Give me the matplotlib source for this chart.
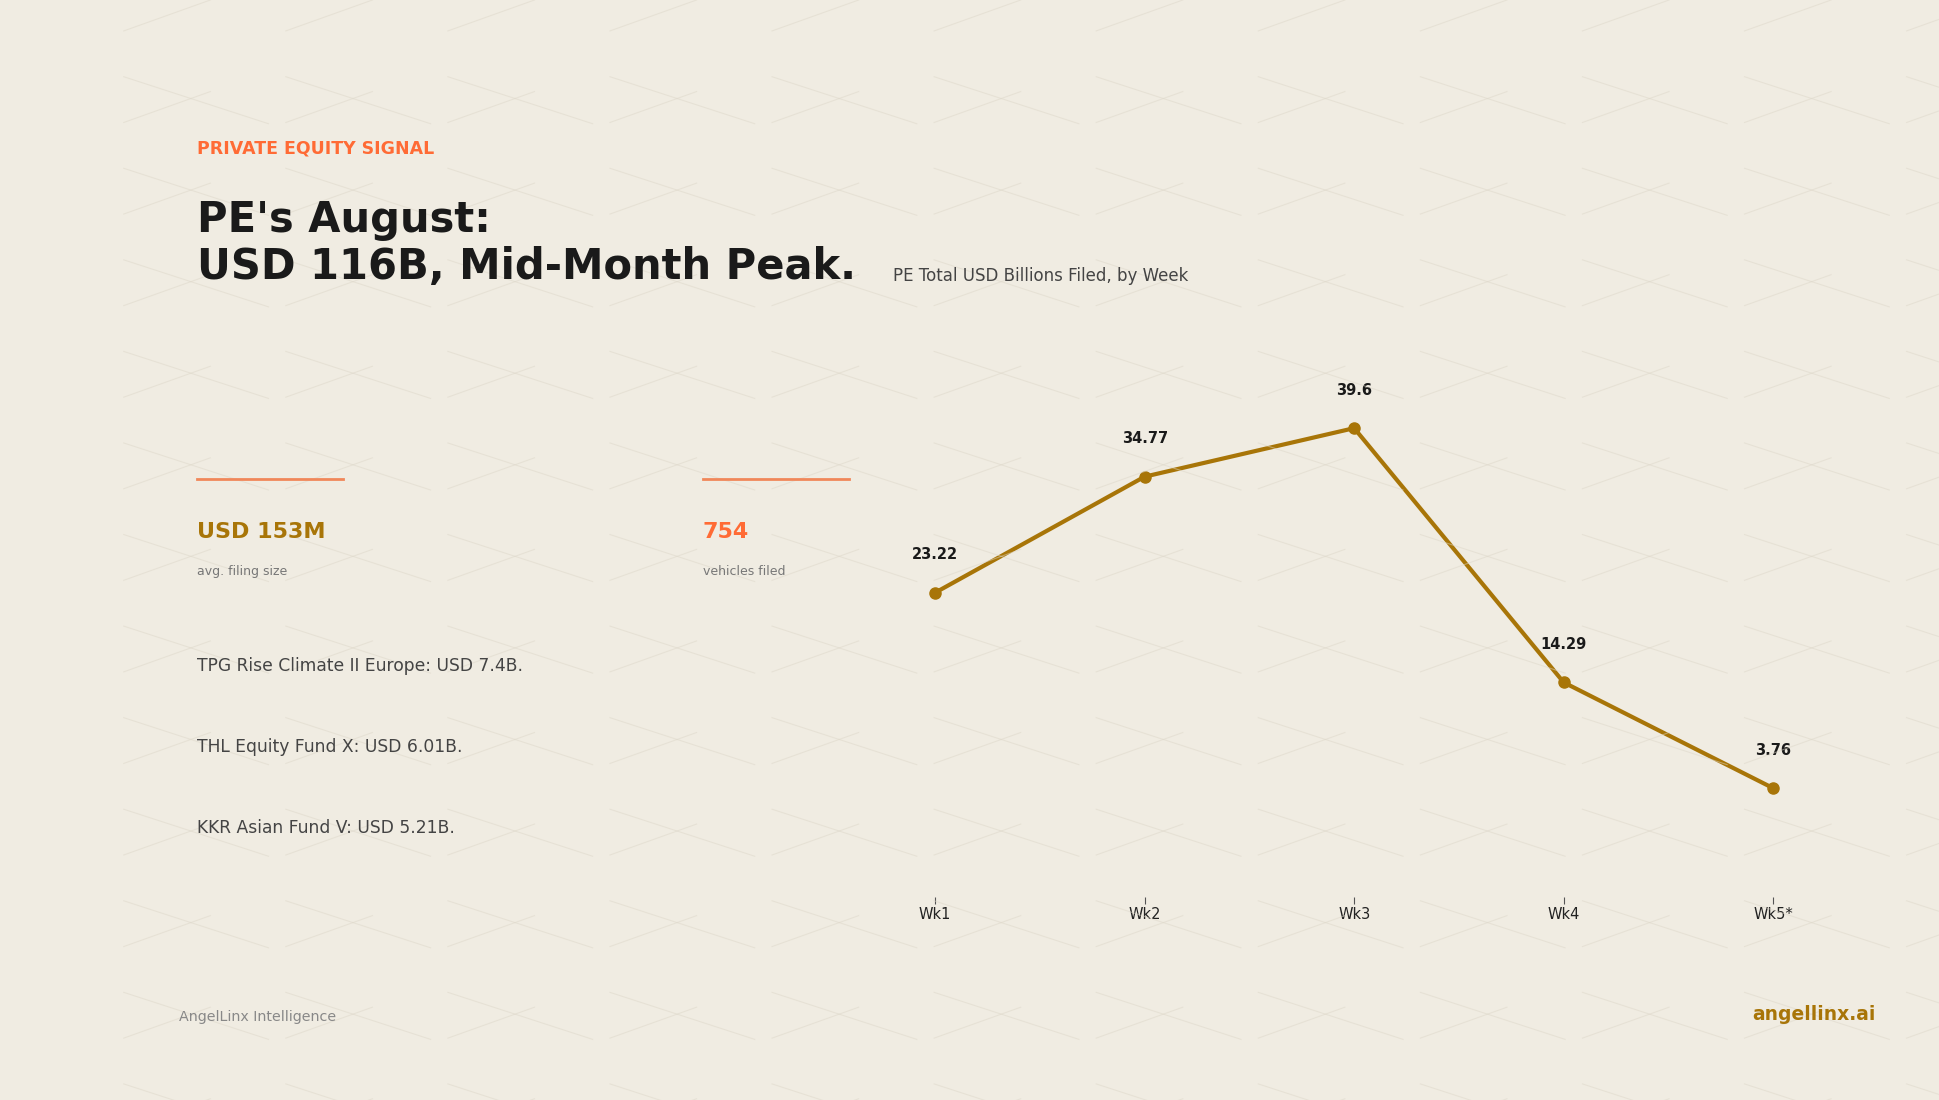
import matplotlib.pyplot as plt
from matplotlib.lines import Line2D

weeks = ["Wk1", "Wk2", "Wk3", "Wk4", "Wk5*"]
totals = [23.22, 34.77, 39.6, 14.29, 3.76]
highlights = [
    "TPG Rise Climate II Europe: USD 7.4B.",
    "THL Equity Fund X: USD 6.01B.",
    "KKR Asian Fund V: USD 5.21B.",
]

BG = "#F0ECE2"
GOLD = "#A87508"
ORANGE = "#FF6B35"
W, H = 1568, 889


def fx(px):
    return px / W


def fy(py):
    return 1 - py / H


fig = plt.figure(figsize=(19.4, 11), dpi=100, facecolor=BG)

# faint decorative background strokes
for col in range(100, W, 131):
    for row in range(0, H + 80, 74):
        fig.add_artist(Line2D([fx(col), fx(col + 70)], [fy(row + 25), fy(row)],
                              color="#ddd7c9", lw=0.8, alpha=0.5))
        fig.add_artist(Line2D([fx(col), fx(col + 117)], [fy(row + 62), fy(row + 100)],
                              color="#ddd7c9", lw=0.8, alpha=0.5))

fig.text(fx(159), fy(120), "PRIVATE EQUITY SIGNAL", color=ORANGE, fontsize=12.5,
         fontweight="bold", va="center")
fig.text(fx(159), fy(197), "PE's August:\nUSD 116B, Mid-Month Peak.", color="#1a1a1a",
         fontsize=30, fontweight="bold", va="center", linespacing=1.15)
fig.text(fx(722), fy(223), "PE Total USD Billions Filed, by Week", color="#444444",
         fontsize=12, va="center")

for x0, big, small, c in [(159, "USD 153M", "avg. filing size", GOLD),
                          (568, "754", "vehicles filed", ORANGE)]:
    fig.add_artist(Line2D([fx(x0), fx(x0 + 118)], [fy(387), fy(387)], color="#F0875A", lw=2))
    fig.text(fx(x0), fy(430), big, color=c, fontsize=16, fontweight="bold", va="center")
    fig.text(fx(x0), fy(462), small, color="#777777", fontsize=9, va="center")

for i, t in enumerate(highlights):
    fig.text(fx(159), fy(538 + 65.5 * i), t, color="#444444", fontsize=12.3, va="center")

fig.text(fx(145), fy(822), "AngelLinx Intelligence", color="#888888", fontsize=10.3, va="center")
fig.text(fx(1516), fy(820), "angellinx.ai", color=GOLD, fontsize=13.5, fontweight="bold",
         va="center", ha="right")

ax = fig.add_axes([fx(705), fy(725), fx(1484) - fx(705), fy(290) - fy(725)])
ax.set_facecolor("none")
xs = range(len(weeks))
ax.plot(xs, totals, color=GOLD, lw=3, marker="o", ms=8)
for x, v in zip(xs, totals):
    ax.annotate(f"{v:g}", (x, v), xytext=(0, 24), textcoords="offset points",
                ha="center", fontsize=10.5, fontweight="bold", color="#1a1a1a")
ax.set_xlim(-0.3, 4.3)
ax.set_ylim(-7.08, 46.5)
ax.set_xticks(list(xs))
ax.set_xticklabels(weeks, fontsize=10.5, color="#222222")
ax.set_yticks([])
for s in ax.spines.values():
    s.set_visible(False)
ax.tick_params(axis="x", length=5, pad=2, color="#555555")

fig.savefig("out.png", facecolor=BG)
